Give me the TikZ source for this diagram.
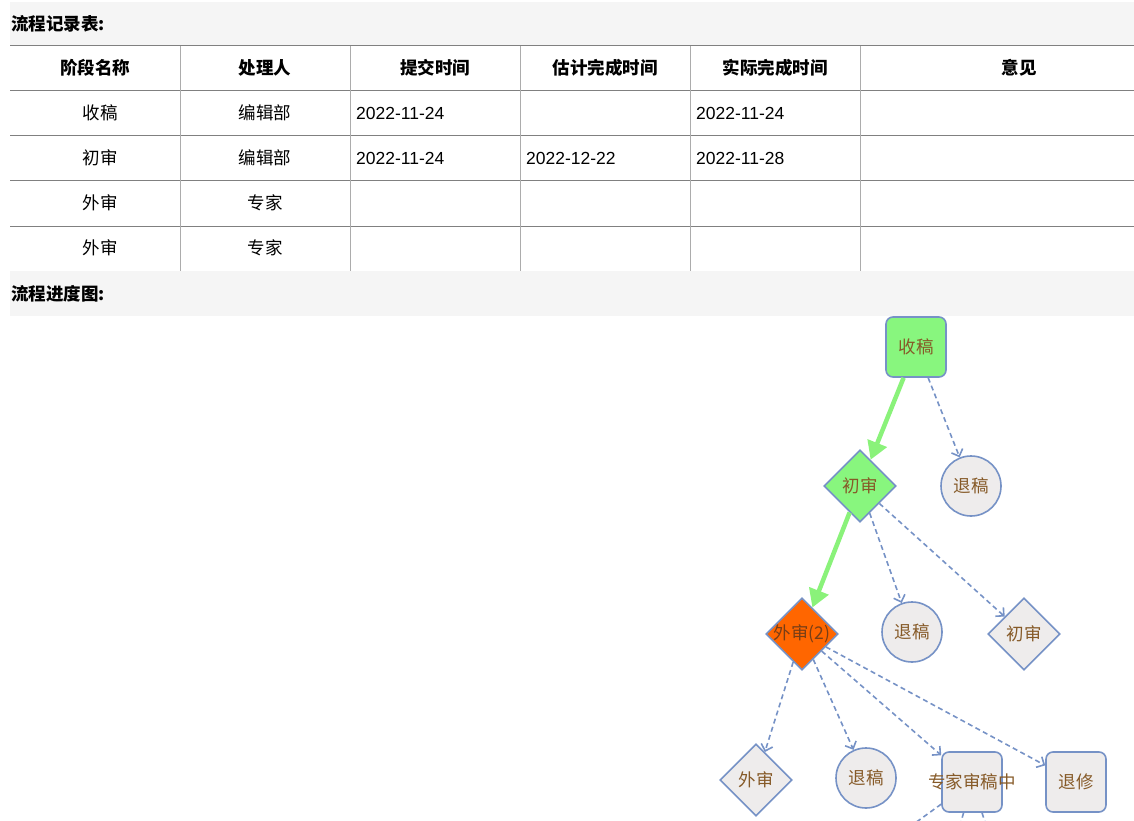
\documentclass[tikz,border=0pt]{standalone}
\usepackage{fontspec}
\setmainfont{Liberation Sans}
\newfontfamily\cjk{Noto Sans CJK SC}
\usetikzlibrary{arrows.meta,positioning,shapes.geometric}
\definecolor{band}{RGB}{245,245,245}
\definecolor{hln}{RGB}{128,128,128}
\definecolor{vln}{RGB}{172,172,172}
\definecolor{okgreen}{RGB}{136,246,126}
\definecolor{arrgreen}{RGB}{138,242,122}
\definecolor{busy}{RGB}{255,102,0}
\definecolor{idle}{RGB}{238,236,236}
\definecolor{edge}{RGB}{118,146,198}
\definecolor{lbl}{RGB}{134,90,40}
\newcommand{\fsz}{\fontsize{17.5}{21}\selectfont}

\begin{document}
\begin{tikzpicture}[x=1pt,y=-1pt,font=\fsz]
	\tikzstyle{title}=[anchor=west, inner sep=0pt, font=\cjk\bfseries\fsz]
	\tikzstyle{head}=[inner sep=0pt, font=\cjk\bfseries\fsz]
	\tikzstyle{cell}=[inner sep=0pt, font=\cjk\fsz]
	\tikzstyle{date}=[anchor=west, inner sep=0pt]
	\tikzstyle{rect}=[draw=edge, line width=1.6pt, rectangle, rounded corners=7pt, minimum size=60pt, inner sep=0pt, text=lbl, font=\cjk\fsz]
	\tikzstyle{circ}=[draw=edge, line width=1.6pt, circle, minimum size=60pt, inner sep=0pt, fill=idle, text=lbl, font=\cjk\fsz]
	\tikzstyle{dia}=[draw=edge, line width=1.6pt, diamond, minimum width=72pt, minimum height=72pt, inner sep=0pt, text=lbl, font=\cjk\fsz]
	\tikzstyle{done}=[draw=arrgreen, line width=4.5pt, -{Triangle[length=18pt,width=20pt]}]
	\tikzstyle{todo}=[draw=edge, line width=1.6pt, dash pattern=on 5pt off 3.5pt, -{Straight Barb[length=6pt,width=12pt]}]

	\useasboundingbox (0,0) rectangle (1134,821);
	\clip (0,0) rectangle (1134,821);

	\fill[band] (10,2) rectangle (1134,46);
	\fill[band] (10,271) rectangle (1134,316);
	\node[title] (t1) at (11,24) {流程记录表:};
	\node[title] (t2) at (11,294) {流程进度图:};

	\draw[hln, line width=1pt] (10,46) -- (1134,46);
	\draw[hln, line width=1pt] (10,91) -- (1134,91);
	\draw[hln, line width=1pt] (10,136) -- (1134,136);
	\draw[hln, line width=1pt] (10,181) -- (1134,181);
	\draw[hln, line width=1pt] (10,226) -- (1134,226);
	\draw[vln, line width=1pt] (180,46) -- (180,271);
	\draw[vln, line width=1pt] (350,46) -- (350,271);
	\draw[vln, line width=1pt] (520,46) -- (520,271);
	\draw[vln, line width=1pt] (690,46) -- (690,271);
	\draw[vln, line width=1pt] (860,46) -- (860,271);

	\node[head] (h1) at (95,68) {阶段名称};
	\node[head] (h2) at (265,68) {处理人};
	\node[head] (h3) at (435,68) {提交时间};
	\node[head] (h4) at (605,68) {估计完成时间};
	\node[head] (h5) at (775,68) {实际完成时间};
	\node[head] (h6) at (1019,68) {意见};

	\node[cell] (a1) at (100,113) {收稿};
	\node[cell] (a2) at (265,113) {编辑部};
	\node[date] (a3) at (356,113) {2022-11-24};
	\node[date] (a5) at (696,113) {2022-11-24};
	\node[cell] (b1) at (100,158) {初审};
	\node[cell] (b2) at (265,158) {编辑部};
	\node[date] (b3) at (356,158) {2022-11-24};
	\node[date] (b4) at (526,158) {2022-12-22};
	\node[date] (b5) at (696,158) {2022-11-28};
	\node[cell] (c1) at (100,203) {外审};
	\node[cell] (c2) at (265,203) {专家};
	\node[cell] (d1) at (100,248) {外审};
	\node[cell] (d2) at (265,248) {专家};

	\node[rect, fill=okgreen] (sg) at (916,347) {收稿};
	\node[dia, fill=okgreen] (cs) at (860,486) {初审};
	\node[circ] (tg1) at (971,486) {退稿};
	\node[dia, fill=busy, text={rgb,255:red,120;green,62;blue,22}] (ws) at (802,634) {\makebox[0pt]{外审(2)}};
	\node[circ] (tg2) at (912,632) {退稿};
	\node[dia, fill=idle] (cs2) at (1024,634) {初审};
	\node[dia, fill=idle] (ws2) at (756,780) {外审};
	\node[circ] (tg3) at (866,778) {退稿};
	\node[rect, fill=idle] (zj) at (972,782) {\makebox[0pt]{专家审稿中}};
	\node[rect, fill=idle] (tx) at (1076,782) {退修};
	\coordinate (zj1) at (872,854);
	\coordinate (zj2) at (950,862);
	\coordinate (zj3) at (998,862);

	\draw[done] (sg) -- (cs);
	\draw[todo] (sg) -- (tg1);
	\draw[done] (cs) -- (ws);
	\draw[todo] (cs) -- (tg2);
	\draw[todo] (cs) -- (cs2);
	\draw[todo] (ws) -- (ws2);
	\draw[todo] (ws) -- (tg3);
	\draw[todo] (ws) -- (zj);
	\draw[todo] (ws) -- (tx);
	\draw[todo, -] (zj) -- (zj1);
	\draw[todo, -] (zj) -- (zj2);
	\draw[todo, -] (zj) -- (zj3);
\end{tikzpicture}
\end{document}
